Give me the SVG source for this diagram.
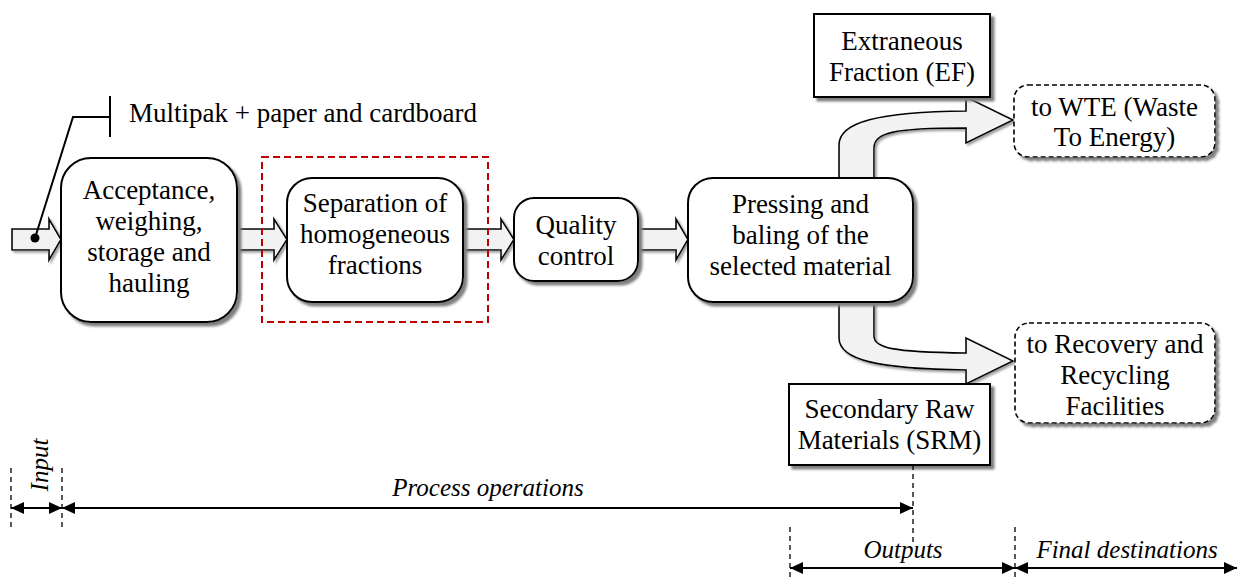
<svg xmlns="http://www.w3.org/2000/svg" width="1240" height="581" viewBox="0 0 1240 581">
<defs>
<filter id="sh" x="-10%" y="-10%" width="130%" height="130%">
<feDropShadow dx="3.5" dy="3.5" stdDeviation="1" flood-color="#808080" flood-opacity="1"/>
</filter>
<filter id="sh2" x="-10%" y="-10%" width="130%" height="130%">
<feDropShadow dx="2" dy="2" stdDeviation="0.8" flood-color="#a0a0a0" flood-opacity="1"/>
</filter>
<marker id="ah" markerUnits="userSpaceOnUse" markerWidth="14" markerHeight="14" viewBox="0 0 14 14" refX="13" refY="7" orient="auto-start-reverse">
<path d="M0,1 L13,7 L0,13 z" fill="#000"/>
</marker>
<style>
.t{font-family:"Liberation Serif","Times New Roman",serif;font-size:27px;fill:#000;text-anchor:middle}
.ti{font-family:"Liberation Serif","Times New Roman",serif;font-size:25px;font-style:italic;fill:#000;text-anchor:middle}
.box{fill:#fff;stroke:#000;stroke-width:2}
.dbox{fill:#fff;stroke:#000;stroke-width:1.6;stroke-dasharray:5,3}
.blk{fill:#f2f2f2;stroke:#000;stroke-width:1.6;stroke-linejoin:miter}
.dim{stroke:#000;stroke-width:2.2;fill:none}
.ext{stroke:#000;stroke-width:1.3;stroke-dasharray:5,4;fill:none}
</style>
</defs>

<g id="connectors">
<g filter="url(#sh2)">
<path class="blk" d="M12,229 L49,229 L49,219 L61,239.5 L49,260 L49,250 L12,250 z"/>
<path class="blk" d="M237,229 L274,229 L274,219 L287,239.5 L274,260 L274,250 L237,250 z"/>
<path class="blk" d="M463,229 L501,229 L501,219 L514,239.5 L501,260 L501,250 L463,250 z"/>
<path class="blk" d="M638,229 L676,229 L676,219 L688,239.5 L676,260 L676,250 L638,250 z"/>
<path class="blk" d="M839,180 L839,145 C839,122 878,112 966,111 L966,97 L1013,120 L966,143 L966,128 C892,128 874,133 874,148 L874,180 z"/>
<path class="blk" d="M874,300 L874,336 C874,348 892,352 966,353 L966,338 L1013,361 L966,384 L966,370 C878,369 839,360 839,338 L839,300 z"/>
</g>
<polyline points="35,238 73,117 110,117" fill="none" stroke="#000" stroke-width="2"/>
<line x1="110" y1="96" x2="110" y2="137" stroke="#000" stroke-width="2"/>
<circle cx="35" cy="238" r="4.5" fill="#000"/>
</g>

<g id="n_accept">
<rect class="box" x="61" y="158" width="176" height="164" rx="30" filter="url(#sh)"/>
<text class="t" x="149" y="199">Acceptance,</text>
<text class="t" x="149" y="230">weighing,</text>
<text class="t" x="149" y="261">storage and</text>
<text class="t" x="149" y="292">hauling</text>
</g>

<g id="n_sepgroup">
<rect x="262" y="157" width="226" height="165" fill="none" stroke="#c00000" stroke-width="2" stroke-dasharray="7,4"/>
</g>

<g id="n_sep">
<rect class="box" x="287" y="178" width="176" height="124" rx="25" filter="url(#sh)"/>
<text class="t" x="375" y="212">Separation of</text>
<text class="t" x="375" y="243">homogeneous</text>
<text class="t" x="375" y="274">fractions</text>
</g>

<g id="n_quality">
<rect class="box" x="514" y="198" width="124" height="83" rx="20" filter="url(#sh)"/>
<text class="t" x="576" y="234">Quality</text>
<text class="t" x="576" y="265">control</text>
</g>

<g id="n_press">
<rect class="box" x="688" y="178" width="225" height="124" rx="25" filter="url(#sh)"/>
<text class="t" x="800.5" y="213">Pressing and</text>
<text class="t" x="800.5" y="244">baling of the</text>
<text class="t" x="800.5" y="275">selected material</text>
</g>

<g id="n_ef">
<rect class="box" x="814" y="14" width="176" height="83" filter="url(#sh)"/>
<text class="t" x="902" y="50">Extraneous</text>
<text class="t" x="902" y="81">Fraction (EF)</text>
</g>

<g id="n_srm">
<rect class="box" x="789" y="384" width="201" height="81" filter="url(#sh)"/>
<text class="t" x="889.5" y="418">Secondary Raw</text>
<text class="t" x="889.5" y="449">Materials (SRM)</text>
</g>

<g id="n_wte">
<rect class="dbox" x="1014" y="85" width="201" height="72" rx="14" filter="url(#sh)"/>
<text class="t" x="1114.5" y="116">to WTE (Waste</text>
<text class="t" x="1114.5" y="146">To Energy)</text>
</g>

<g id="n_recovery">
<rect class="dbox" x="1015" y="323" width="200" height="100" rx="14" filter="url(#sh)"/>
<text class="t" x="1115" y="353">to Recovery and</text>
<text class="t" x="1115" y="384">Recycling</text>
<text class="t" x="1115" y="415">Facilities</text>
</g>

<g id="n_multipak">
<text x="129" y="122" style="font-family:'Liberation Serif','Times New Roman',serif;font-size:27px;fill:#000">Multipak + paper and cardboard</text>
</g>

<g id="dimensions">
<line class="ext" x1="11" y1="468" x2="11" y2="527"/>
<line class="ext" x1="62" y1="468" x2="62" y2="527"/>
<line class="ext" x1="913" y1="465" x2="913" y2="545"/>
<line class="ext" x1="790" y1="527" x2="790" y2="581"/>
<line class="ext" x1="1015" y1="527" x2="1015" y2="581"/>
<line class="dim" x1="11" y1="508" x2="62" y2="508" marker-start="url(#ah)" marker-end="url(#ah)"/>
<line class="dim" x1="62" y1="508" x2="913" y2="508" marker-start="url(#ah)" marker-end="url(#ah)"/>
<line class="dim" x1="790" y1="568" x2="1015" y2="568" marker-start="url(#ah)" marker-end="url(#ah)"/>
<line class="dim" x1="1015" y1="568" x2="1237" y2="568" marker-start="url(#ah)" marker-end="url(#ah)"/>
<text class="ti" transform="translate(48,465) rotate(-90)">Input</text>
<text class="ti" x="488" y="496">Process operations</text>
<text class="ti" x="903" y="558">Outputs</text>
<text class="ti" x="1127" y="558">Final destinations</text>
</g>
</svg>
